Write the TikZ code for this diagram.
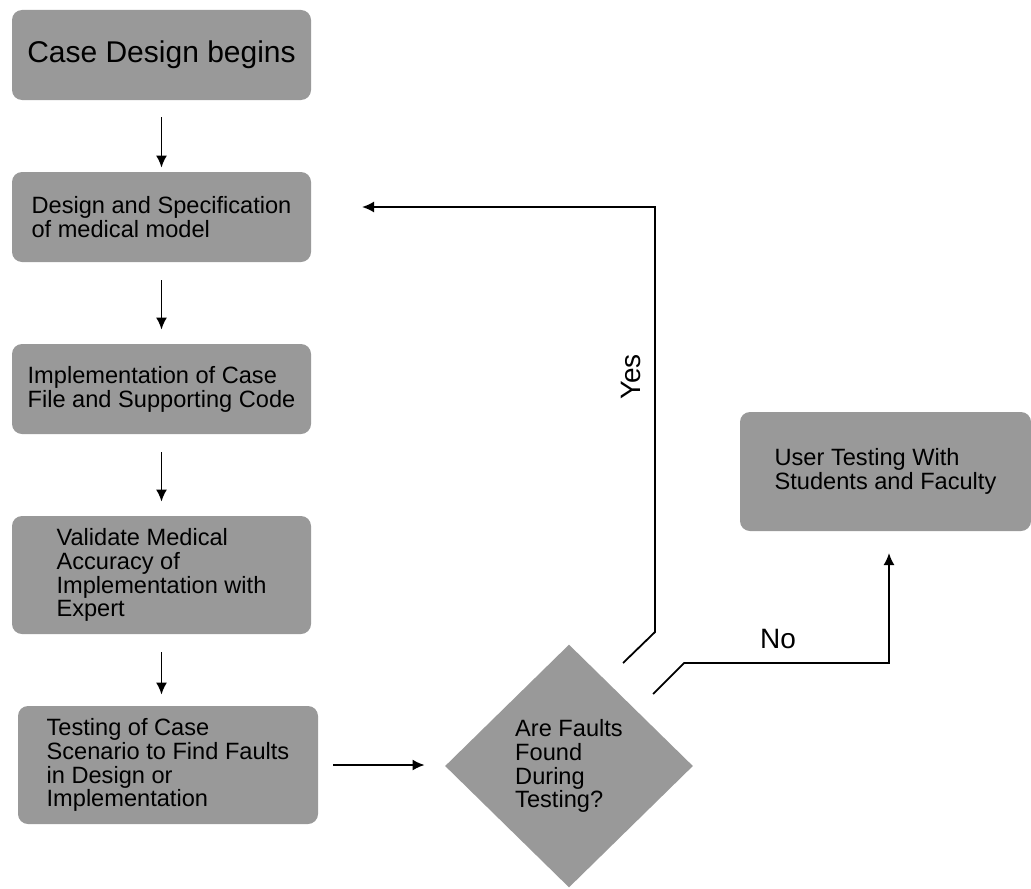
\documentclass[tikz,border=0pt]{standalone}
\usepackage{fontspec}
\setmainfont{Liberation Sans}
\usetikzlibrary{shapes.geometric,arrows.meta}

\begin{document}
\begin{tikzpicture}[x=0.5pt,y=-0.5pt,
    stage/.style    = {rectangle, rounded corners=5pt, fill=black!40,
      minimum width=149.5pt, minimum height=45pt, align=left,
      font=\fontsize{11.8}{11.9}\selectfont},
    decision/.style = {diamond, fill=black!40, inner sep=0pt,
      minimum width=124pt, minimum height=121.5pt, align=left,
      font=\fontsize{11.8}{11.9}\selectfont},
    flow/.style     = {-{Latex[length=6pt,width=5.5pt]}, line width=0.9pt},
    answer/.style   = {font=\fontsize{14}{16}\selectfont},
  ]
  \useasboundingbox (0,0) rectangle (1031,888);

  % left column
  \node[stage, font=\fontsize{15}{17}\selectfont] (begin) at (161.5,55) {Case Design begins};
  \node[stage] (spec)  at (161.5,217) {Design and Specification\\of medical model};
  \node[stage] (impl)  at (161.5,389) {Implementation of Case\\File and Supporting Code};
  \node[stage, minimum height=59pt] (valid) at (161.5,575)
    {Validate Medical\\Accuracy of\\Implementation with\\Expert};
  \node[stage, minimum width=150pt, minimum height=59pt] (test) at (168,765)
    {Testing of Case\\Scenario to Find Faults\\in Design or\\Implementation};

  % decision and outcome
  \node[decision] (faults) at (569,766) {Are Faults\\Found\\During\\Testing?};
  \node[stage, minimum width=145.5pt, minimum height=59.5pt] (user) at (885.5,471.5)
    {User Testing With\\Students and Faculty};

  \draw[flow, shorten <=8.5pt, shorten >=2pt] (begin) -- (spec);
  \draw[flow, shorten <=9pt, shorten >=7pt] (spec) -- (impl);
  \draw[flow, shorten <=9pt, shorten >=7pt] (impl) -- (valid);
  \draw[flow, shorten <=9pt, shorten >=5.5pt] (valid.south) -- (valid.south |- test.north);
  \draw[flow, shorten <=7.5pt, shorten >=10pt] (test.east) -- (test.east -| faults.west);

  % yes: back to the model
  \coordinate (yes foot) at (623,663);
  \coordinate (yes head) at (362,207);
  \draw[flow] (yes foot) -- ++(32,-31) |- (yes head);
  \node[answer, rotate=90] (yes) at (631,377) {Yes};

  % no: on to the users
  \coordinate (no foot) at (653,694);
  \coordinate (no head) at (889,553);
  \draw[flow] (no foot) -- ++(31,-31) -| (no head);
  \node[answer] (no) at (778,639) {No};
\end{tikzpicture}
\end{document}
